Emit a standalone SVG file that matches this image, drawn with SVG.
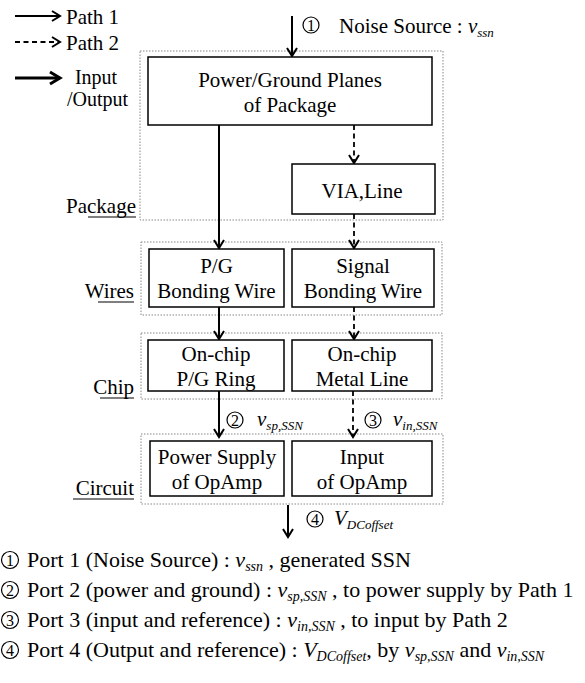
<svg xmlns="http://www.w3.org/2000/svg" width="585" height="683" viewBox="0 0 585 683">
<style>
text{font-family:"Liberation Serif","Times New Roman",serif;font-size:21px;fill:#000}
.c{text-anchor:middle}
.r{text-anchor:end}
.i{font-style:italic}
.s{font-style:italic;font-size:13px}
.box{fill:#fff;stroke:#000;stroke-width:1.5}
.grp{fill:none;stroke:#888;stroke-width:1;stroke-dasharray:1.5 1.5}
.sol{stroke:#000;stroke-width:2;fill:none;marker-end:url(#ah)}
.dsh{stroke:#000;stroke-width:1.8;fill:none;stroke-dasharray:5 3.5;marker-end:url(#ah)}
.num{fill:none;stroke:#000;stroke-width:1.2}
.nt{font-size:16px;text-anchor:middle}
.bt{font-size:22px}
.bs{font-style:italic;font-size:14px}
.lg{font-size:20px}
.ul{stroke:#000;stroke-width:1.2}
</style>
<defs>
<marker id="ah" markerUnits="userSpaceOnUse" markerWidth="20" markerHeight="20" refX="0" refY="0" viewBox="-10 -10 20 20" orient="auto" overflow="visible">
<path d="M-8,-5 L0,0 L-8,5" fill="none" stroke="#000" stroke-width="2" stroke-dasharray="none"/>
</marker>
<marker id="ahb" markerUnits="userSpaceOnUse" markerWidth="20" markerHeight="20" refX="0" refY="0" viewBox="-10 -10 20 20" orient="auto" overflow="visible">
<path d="M-10,-6 L0,0 L-10,6" fill="none" stroke="#000" stroke-width="3" stroke-dasharray="none"/>
</marker>
</defs>

<g id="legend">
<line x1="15" y1="16" x2="60" y2="16" class="sol"/>
<text x="66" y="24">Path 1</text>
<line x1="15" y1="42" x2="60" y2="42" class="dsh"/>
<text x="66" y="50">Path 2</text>
<line x1="15" y1="78" x2="60" y2="78" stroke="#000" stroke-width="3" marker-end="url(#ahb)"/>
<text x="96" y="84" class="c lg">Input</text>
<text x="67" y="106" class="lg">/Output</text>
</g>

<g id="groups">
<g id="package"><rect x="140" y="51" width="303" height="169" class="grp"/><text x="136" y="213" class="r">Package</text><line x1="88" y1="217" x2="136" y2="217" class="ul"/></g>
<g id="wires"><rect x="141" y="242" width="301" height="73" class="grp"/><text x="134" y="298" class="r">Wires</text><line x1="98" y1="302" x2="134" y2="302" class="ul"/></g>
<g id="chip"><rect x="141" y="333" width="301" height="66" class="grp"/><text x="134" y="394" class="r">Chip</text><line x1="100" y1="398" x2="134" y2="398" class="ul"/></g>
<g id="circuit"><rect x="141" y="434" width="302" height="70" class="grp"/><text x="134" y="495" class="r">Circuit</text><line x1="73" y1="499" x2="134" y2="499" class="ul"/></g>
</g>

<g id="connectors">
<line x1="292" y1="16" x2="292" y2="56" class="sol"/>
<line x1="219" y1="125" x2="219" y2="248" class="sol"/>
<line x1="354" y1="125" x2="354" y2="163" class="dsh"/>
<line x1="354" y1="214" x2="354" y2="248" class="dsh"/>
<line x1="219" y1="307" x2="219" y2="339" class="sol"/>
<line x1="354" y1="307" x2="354" y2="339" class="dsh"/>
<line x1="219" y1="391" x2="219" y2="437" class="sol"/>
<line x1="353" y1="391" x2="353" y2="437" class="dsh"/>
<line x1="288" y1="505" x2="288" y2="537" class="sol"/>
</g>

<g id="n-planes"><rect x="148" y="57" width="284" height="68" class="box"/><text x="290" y="87" class="c">Power/Ground Planes</text><text x="290" y="112" class="c">of Package</text></g>
<g id="n-via"><rect x="292" y="164" width="143" height="50" class="box"/><text x="362" y="198" class="c">VIA,Line</text></g>
<g id="n-pgwire"><rect x="149" y="249" width="135" height="58" class="box"/><text x="216.5" y="273" class="c">P/G</text><text x="216.5" y="298" class="c">Bonding Wire</text></g>
<g id="n-sigwire"><rect x="292" y="249" width="142" height="58" class="box"/><text x="363" y="273" class="c">Signal</text><text x="363" y="298" class="c">Bonding Wire</text></g>
<g id="n-pgring"><rect x="148" y="340" width="136" height="51" class="box"/><text x="216" y="361" class="c">On-chip</text><text x="216" y="386" class="c">P/G Ring</text></g>
<g id="n-metal"><rect x="292" y="340" width="140" height="51" class="box"/><text x="362" y="361" class="c">On-chip</text><text x="362" y="386" class="c">Metal Line</text></g>
<g id="n-power"><rect x="150" y="441" width="134" height="55" class="box"/><text x="217" y="464" class="c">Power Supply</text><text x="217" y="489" class="c">of OpAmp</text></g>
<g id="n-input"><rect x="292" y="441" width="140" height="55" class="box"/><text x="362" y="464" class="c">Input</text><text x="362" y="489" class="c">of OpAmp</text></g>

<g id="port-labels">
<circle cx="311" cy="25" r="8" class="num"/><text x="311" y="31" class="nt">1</text>
<text x="339" y="33">Noise Source : <tspan class="i">v</tspan><tspan class="s" dy="4">ssn</tspan></text>
<circle cx="235" cy="420" r="8" class="num"/><text x="235" y="426" class="nt">2</text>
<text x="257" y="426" class="i">v<tspan class="s" dy="4">sp,SSN</tspan></text>
<circle cx="373" cy="420" r="8" class="num"/><text x="373" y="426" class="nt">3</text>
<text x="393" y="426" class="i">v<tspan class="s" dy="4">in,SSN</tspan></text>
<circle cx="315" cy="519" r="8" class="num"/><text x="315" y="525" class="nt">4</text>
<text x="334" y="525" class="i">V<tspan class="s" dy="4">DCoffset</tspan></text>
</g>

<g id="notes">
<circle cx="10" cy="560" r="8.5" class="num"/><text x="10" y="566" class="nt">1</text>
<text x="27" y="567" class="bt">Port 1 (Noise Source) : <tspan class="i">v</tspan><tspan class="bs" dy="4">ssn</tspan><tspan dy="-4"> , generated SSN</tspan></text>
<circle cx="10" cy="590" r="8.5" class="num"/><text x="10" y="596" class="nt">2</text>
<text x="27" y="597" class="bt">Port 2 (power and ground) : <tspan class="i">v</tspan><tspan class="bs" dy="4">sp,SSN</tspan><tspan dy="-4"> , to power supply by Path 1</tspan></text>
<circle cx="10" cy="620" r="8.5" class="num"/><text x="10" y="626" class="nt">3</text>
<text x="27" y="627" class="bt">Port 3 (input and reference) : <tspan class="i">v</tspan><tspan class="bs" dy="4">in,SSN</tspan><tspan dy="-4"> , to input by Path 2</tspan></text>
<circle cx="10" cy="650" r="8.5" class="num"/><text x="10" y="656" class="nt">4</text>
<text x="27" y="657" class="bt">Port 4 (Output and reference) : <tspan class="i">V</tspan><tspan class="bs" dy="4">DCoffset</tspan><tspan dy="-4">, by </tspan><tspan class="i">v</tspan><tspan class="bs" dy="4">sp,SSN</tspan><tspan dy="-4"> and </tspan><tspan class="i">v</tspan><tspan class="bs" dy="4">in,SSN</tspan></text>
</g>
</svg>
